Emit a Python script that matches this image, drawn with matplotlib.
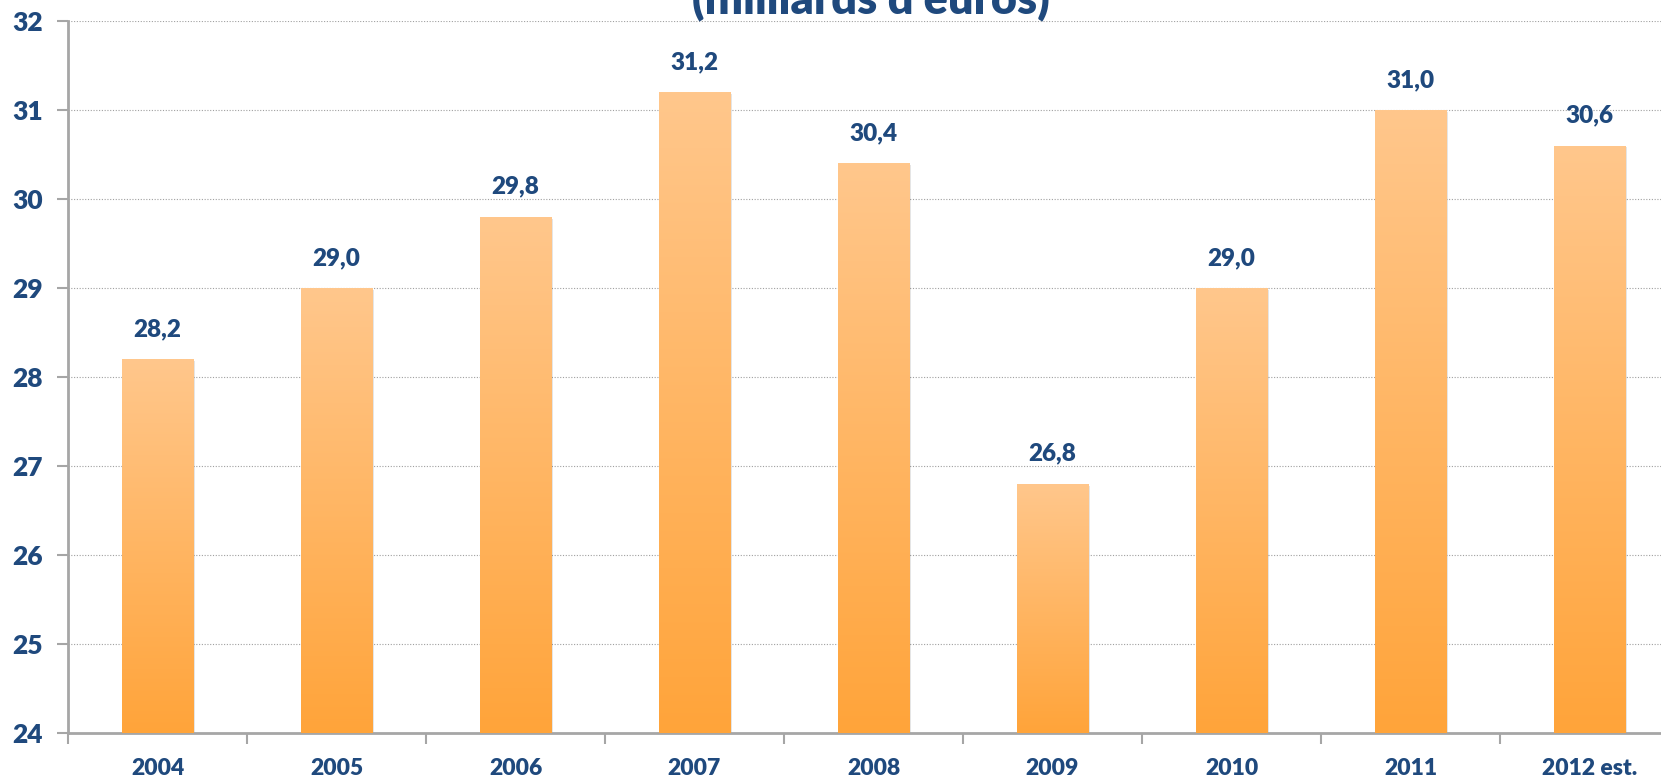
import matplotlib
matplotlib.use("Agg")
import matplotlib.pyplot as plt
import numpy as np
from matplotlib.colors import LinearSegmentedColormap

# --- données ---
years = ["2004", "2005", "2006", "2007", "2008", "2009", "2010", "2011", "2012 est."]
values = [28.2, 29.0, 29.8, 31.2, 30.4, 26.8, 29.0, 31.0, 30.6]
labels = ["28,2", "29,0", "29,8", "31,2", "30,4", "26,8", "29,0", "31,0", "30,6"]
y_ticks = [24, 25, 26, 27, 28, 29, 30, 31, 32]

BLUE = "#1F497D"
GREY = "#A6A6A6"
FONT = "Lato"
WEIGHT = "heavy"
YMIN, YMAX = 24, 32
BAR_W = 0.40

grad = LinearSegmentedColormap.from_list("orange", ["#FFA43A", "#FFC78C"])

fig = plt.figure(figsize=(16.61, 7.80), dpi=100)
ax = fig.add_axes([68 / 1661, 1 - 733 / 780, 1611 / 1661, 712 / 780])

x = np.arange(len(years))
bars = ax.bar(x, [v - YMIN for v in values], bottom=YMIN, width=BAR_W,
              color="none", edgecolor="none", zorder=3)

# dégradé vertical dans chaque barre
for b, v in zip(bars, values):
    x0 = b.get_x()
    # ombre légère
    ax.bar(x0 + BAR_W / 2 + 0.012, v - YMIN - 0.02, bottom=YMIN, width=BAR_W,
           color="#000000", alpha=0.10, zorder=2, edgecolor="none")
    img = ax.imshow(np.linspace(0, 1, 256).reshape(-1, 1), cmap=grad,
                    extent=(x0, x0 + BAR_W, YMIN, v), origin="lower",
                    aspect="auto", zorder=3, vmin=0, vmax=1)
    img.set_clip_path(b)

for xi, v, lab in zip(x, values, labels):
    ax.annotate(lab, (xi, v), xytext=(0, 30), textcoords="offset pixels",
                ha="center", va="center", fontsize=17.5, fontweight=WEIGHT,
                color=BLUE, family=FONT)

ax.set_xlim(-0.5, len(years) - 0.5)
ax.set_ylim(YMIN, YMAX)
ax.set_yticks(y_ticks)
ax.set_yticklabels([str(t) for t in y_ticks], fontsize=19, fontweight=WEIGHT,
                   color=BLUE, family=FONT)
ax.set_xticks(x)
ax.set_xticklabels(years, fontsize=16.5, fontweight=WEIGHT, color=BLUE, family=FONT)
ax.tick_params(axis="x", which="major", length=0, pad=18)
ax.set_xticks(np.arange(len(years) + 1) - 0.5, minor=True)
ax.tick_params(axis="x", which="minor", length=8, width=1.5, color=GREY)
ax.tick_params(axis="y", length=8, width=1.5, color=GREY, pad=10)

ax.yaxis.grid(True, linestyle=(0, (1, 1.5)), color="#A0A0A0", linewidth=0.8, zorder=0)
ax.set_axisbelow(True)
for s in ["top", "right"]:
    ax.spines[s].set_visible(False)
for s in ["left", "bottom"]:
    ax.spines[s].set_color(GREY)
    ax.spines[s].set_linewidth(2)

fig.text(871 / 1661, 1 - 13 / 780, "(milliards d'euros)", ha="center", va="baseline",
         fontsize=32.5, fontweight=WEIGHT, color=BLUE, family=FONT)

fig.savefig("out.png", dpi=100)
